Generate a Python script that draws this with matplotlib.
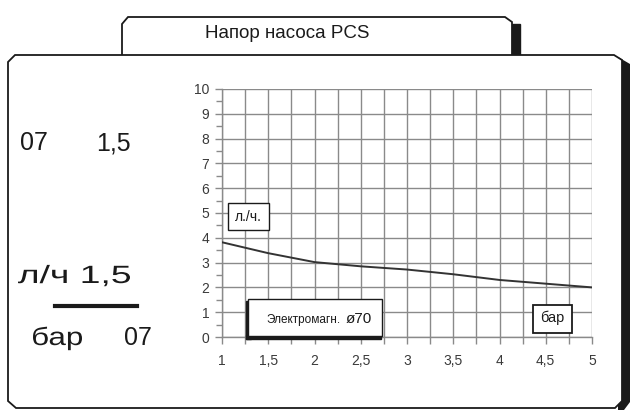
import matplotlib.pyplot as plt
from matplotlib.patches import Polygon, Rectangle, PathPatch
from matplotlib.ticker import MultipleLocator
from matplotlib.textpath import TextPath
from matplotlib.font_manager import FontProperties
from matplotlib.transforms import Affine2D

plt.rcParams['font.family'] = ['Liberation Sans', 'DejaVu Sans']

# pump head curve: pressure (bar) vs flow (l/h)
pressure = [1, 1.5, 2, 2.5, 3, 3.5, 4, 4.5, 5]
flow = [3.82, 3.38, 3.02, 2.85, 2.72, 2.53, 2.30, 2.15, 2.00]
x_labels = ['1', '1,5', '2', '2,5', '3', '3,5', '4', '4,5', '5']
y_labels = [str(i) for i in range(11)]

title = 'Напор насоса PCS'
INK = '#1a1a1a'
GRID = '#8a8a8a'

W, H = 632, 411
fig = plt.figure(figsize=(W / 100, H / 100), dpi=100)


def pixel_layer(z):
    a = fig.add_axes([0, 0, 1, 1])
    a.set_xlim(0, W)
    a.set_ylim(H, 0)
    a.axis('off')
    a.set_zorder(z)
    return a


def wide_text(a, x, y, s, size, width):
    # text drawn as a path, stretched horizontally to the given width
    tp = TextPath((0, 0), s, size=size, prop=FontProperties(family='Liberation Sans'))
    ext = tp.get_extents()
    sx = width / ext.width
    tr = Affine2D().translate(-ext.x0, 0).scale(sx, -1).translate(x, y)
    a.add_patch(PathPatch(tr.transform_path(tp), facecolor=INK, edgecolor='none', zorder=5))


bg = pixel_layer(0)

# tab with title
bg.add_patch(Rectangle((512, 24), 8, 32, color=INK, zorder=1))
bg.add_patch(Polygon([(122, 56), (122, 24), (128, 17), (505, 17), (512, 22), (512, 56)],
                     closed=False, facecolor='white', edgecolor=INK, lw=1.3, zorder=2))
bg.text(287, 34, title, ha='center', va='center', fontsize=13.5, color=INK)

# main frame with right shadow
bg.add_patch(Polygon([(618, 57), (630, 64), (630, 402), (624, 410), (618, 410)],
                     closed=True, facecolor=INK, edgecolor='none', zorder=3))
bg.add_patch(Polygon([(8, 62), (15, 55), (614, 55), (622, 60), (622, 401), (615, 408),
                      (16, 408), (8, 401)],
                     closed=True, facecolor='white', edgecolor=INK, lw=1.3, zorder=4))

# ratio notes on the left
bg.text(20, 150, '07', fontsize=18, color=INK, zorder=5)
bg.text(96, 150, '1,5', fontsize=18, color=INK, zorder=5)
wide_text(bg, 18, 283, 'л/ч 1,5', 25, 112)
bg.plot([55, 137], [306, 306], color=INK, lw=3, zorder=5)
wide_text(bg, 33, 345, 'бар', 25, 49)
bg.text(124, 345, '07', fontsize=18, color=INK, zorder=5)

# chart
ax = fig.add_axes([222 / W, 1 - 337 / H, (592 - 222) / W, (337 - 89) / H])
ax.set_zorder(6)
ax.patch.set_alpha(0)
ax.plot(pressure, flow, color='#333333', lw=1.4, zorder=3)
ax.set_xlim(1, 5)
ax.set_ylim(0, 10)
ax.set_xticks(pressure)
ax.set_xticklabels(x_labels, va='baseline')
ax.set_yticks(range(11))
ax.set_yticklabels(y_labels)
ax.xaxis.set_minor_locator(MultipleLocator(0.25))
ax.yaxis.set_minor_locator(MultipleLocator(0.5))
ax.grid(which='major', axis='both', color=GRID, lw=1)
ax.grid(which='minor', axis='x', color=GRID, lw=1)
ax.tick_params(which='both', direction='out', color=GRID, labelcolor='#3a3a3a',
               labelsize=10, length=5, width=1)
ax.tick_params(axis='x', pad=15)
ax.tick_params(axis='y', pad=4)
ax.tick_params(axis='y', which='minor', length=4)
for s in ax.spines.values():
    s.set_color(GRID)
    s.set_linewidth(1)
ax.spines['top'].set_visible(False)
ax.spines['right'].set_visible(False)

# labels in boxes, on top of the grid
top = pixel_layer(7)

top.add_patch(Rectangle((228, 203), 41, 27, facecolor='white', edgecolor=INK, lw=1))
top.text(248.5, 217, 'л./ч.', ha='center', va='center', fontsize=10, color=INK)

top.add_patch(Rectangle((246, 301), 4.5, 38, color=INK))
top.add_patch(Rectangle((246, 335), 135, 3.5, color=INK))
top.add_patch(Rectangle((248, 299), 134, 37, facecolor='white', edgecolor=INK, lw=1))
top.text(266, 320, 'Электромагн.', ha='left', va='center', fontsize=8.5, color=INK)
top.text(346, 319, 'ø70', ha='left', va='center', fontsize=11, color=INK)

top.add_patch(Rectangle((533, 305), 39, 28, facecolor='white', edgecolor=INK, lw=1.3))
top.text(552.5, 318, 'бар', ha='center', va='center', fontsize=10.5, color=INK)

fig.savefig('out.png', dpi=100)
